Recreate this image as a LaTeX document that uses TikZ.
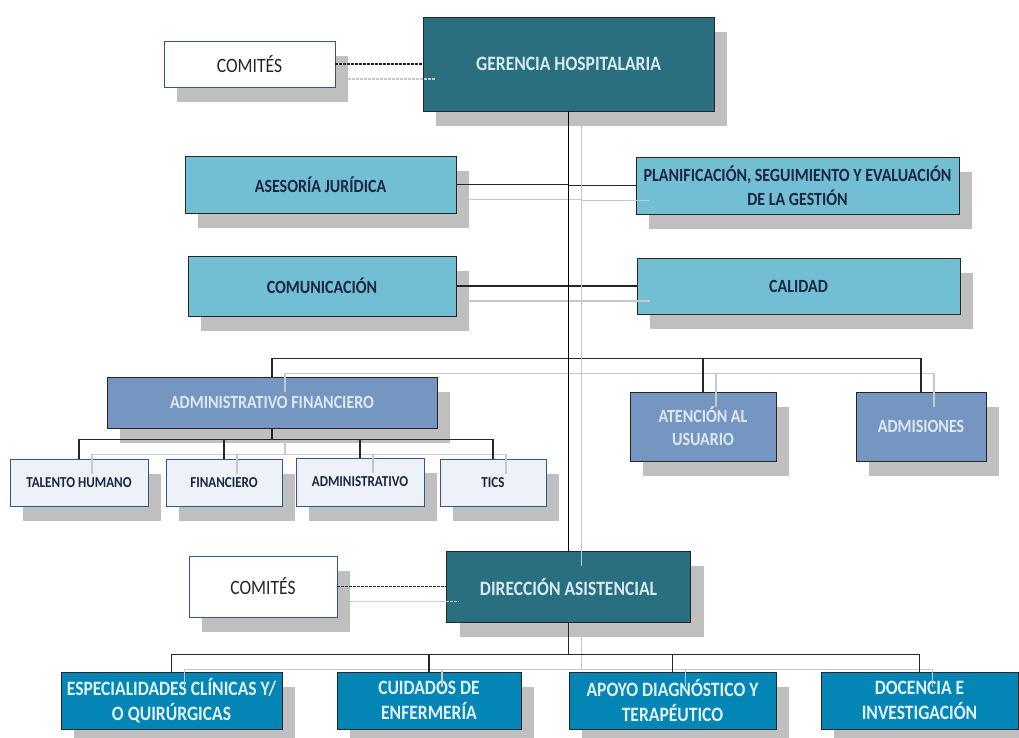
\documentclass[tikz,border=0pt]{standalone}
\usepackage{fontspec}
\setmainfont{Carlito}[FakeStretch=0.86]
\usetikzlibrary{shadows,calc}
\definecolor{cTeal}{HTML}{2A6F80}
\definecolor{cTealTxt}{HTML}{D6EAF0}
\definecolor{cLight}{HTML}{72BED3}
\definecolor{cNavy}{HTML}{1C2541}
\definecolor{cSteel}{HTML}{7596C1}
\definecolor{cSteelTxt}{HTML}{DCEAF6}
\definecolor{cPale}{HTML}{EEF1F7}
\definecolor{cBorder}{HTML}{2F5597}
\definecolor{cDeep}{HTML}{0385B5}
\definecolor{cDeepTxt}{HTML}{E2F2F8}
\definecolor{cShadow}{HTML}{BFBFBF}
\definecolor{cLine}{HTML}{C8C8C8}
\begin{document}
\begin{tikzpicture}[x=1pt,y=-1pt,
  sh/.style={drop shadow={shadow xshift=13pt,shadow yshift=-15pt,fill=cShadow,opacity=1}},
  basebox/.style={sh,draw=black!85,line width=0.9pt,align=center,inner sep=0pt},
  topbox/.style={basebox,fill=cTeal,text=cTealTxt,font=\bfseries\fontsize{20.4}{24}\selectfont},
  comitebox/.style={basebox,draw=cBorder,line width=0.8pt,fill=white,text=black!85,font=\fontsize{20.4}{24}\selectfont},
  staffbox/.style={basebox,fill=cLight,text=cNavy,font=\bfseries\fontsize{18.6}{24}\selectfont},
  unitbox/.style={basebox,fill=cSteel,text=cSteelTxt,font=\bfseries\fontsize{18.6}{23}\selectfont},
  smallbox/.style={basebox,draw=cBorder,line width=0.8pt,fill=cPale,text=cNavy,font=\bfseries\fontsize{15.2}{18}\selectfont},
  deepbox/.style={basebox,fill=cDeep,text=cDeepTxt,font=\bfseries\fontsize{20.4}{25}\selectfont},
  blk/.style={draw=black!85,line width=1.1pt},
  trunk/.style={draw=black,line width=1.7pt},
  gry/.style={draw=cLine,line width=1.2pt,transform canvas={shift={(13,15)}}},
  dsh/.style={dash pattern=on 2.5pt off 1.5pt}
]
\useasboundingbox (0,0) rectangle (1019,738);

% nodes
\node[topbox,minimum width=291pt,minimum height=94pt] (ger) at (568.5,64) {GERENCIA HOSPITALARIA};
\node[comitebox,minimum width=171pt,minimum height=46pt] (c1) at (249.5,64) {COMITÉS};
\node[staffbox,minimum width=271pt,minimum height=57pt] (ase) at (320.5,184.5) {ASESORÍA JURÍDICA};
\node[staffbox,minimum width=323pt,minimum height=57pt] (pla) at (797.5,185.5) {PLANIFICACIÓN, SEGUIMIENTO Y EVALUACIÓN\\DE LA GESTIÓN};
\node[staffbox,minimum width=268pt,minimum height=60pt] (com) at (322,286) {COMUNICACIÓN};
\node[staffbox,minimum width=323pt,minimum height=56pt] (cal) at (798.5,286) {CALIDAD};
\node[unitbox,minimum width=330pt,minimum height=51pt] (af) at (272,402.5) {ADMINISTRATIVO FINANCIERO};
\node[unitbox,minimum width=146pt,minimum height=69pt] (at) at (703,426.5) {ATENCIÓN AL\\USUARIO};
\node[unitbox,minimum width=130pt,minimum height=69pt] (adm) at (921,426.5) {ADMISIONES};
\node[smallbox,minimum width=138pt,minimum height=47pt] (th) at (79,482.5) {TALENTO HUMANO};
\node[smallbox,minimum width=116pt,minimum height=47pt] (fin) at (224,482.5) {FINANCIERO};
\node[smallbox,minimum width=128pt,minimum height=48pt] (adm2) at (360,482) {ADMINISTRATIVO};
\node[smallbox,minimum width=106pt,minimum height=47pt] (tic) at (493,482.5) {TICS};
\node[topbox,minimum width=244pt,minimum height=71pt] (dir) at (568.5,586.5) {DIRECCIÓN ASISTENCIAL};
\node[comitebox,minimum width=148pt,minimum height=61pt] (c2) at (263,586.5) {COMITÉS};
\node[deepbox,minimum width=221pt,minimum height=57pt] (esp) at (171.5,700.5) {ESPECIALIDADES CLÍNICAS Y/\\O QUIRÚRGICAS};
\node[deepbox,minimum width=184pt,minimum height=57pt] (cui) at (429,700.5) {CUIDADOS DE\\ENFERMERÍA};
\node[deepbox,minimum width=207pt,minimum height=57pt] (apo) at (672.5,700.5) {APOYO DIAGNÓSTICO Y\\TERAPÉUTICO};
\node[deepbox,minimum width=197pt,minimum height=57pt] (doc) at (919.5,700.5) {DOCENCIA E\\INVESTIGACIÓN};

% bus coordinates
\coordinate (bus) at ($(ger.south)+(0,247)$);
\coordinate (afbus) at ($(af.south)+(0,11)$);
\coordinate (dbus) at ($(dir.south)+(0,32)$);

% connectors: light offset copies, then black
\foreach \st in {gry,blk}{
  \draw[\st,dsh] (c1.east) -- (ger.west);
  \draw[\st,dsh] (c2.east) -- (dir.west);
  \draw[\st] (ase.east) -- (ase.east -| ger.south);
  \draw[\st] (pla.west) -- (pla.west -| ger.south);
  \draw[\st] (com.east) -- (cal.west);
  \draw[\st] (af.north) |- (adm.north |- bus) -- (adm.north);
  \draw[\st] (at.north) -- (at.north |- bus);
  \draw[\st] (af.south) -- (afbus);
  \draw[\st] (th.north) |- (tic.north |- afbus) -- (tic.north);
  \draw[\st] (fin.north) -- (fin.north |- afbus);
  \draw[\st] (adm2.north) -- (adm2.north |- afbus);
  \draw[\st] (dir.south) -- (dbus);
  \draw[\st] (esp.north) |- (doc.north |- dbus) -- (doc.north);
  \draw[\st] (cui.north) -- (cui.north |- dbus);
  \draw[\st] (apo.north) -- (apo.north |- dbus);
}
\draw[gry] (ger.south) -- (dir.north);
\draw[trunk] (ger.south) -- (dir.north);
\end{tikzpicture}
\end{document}
